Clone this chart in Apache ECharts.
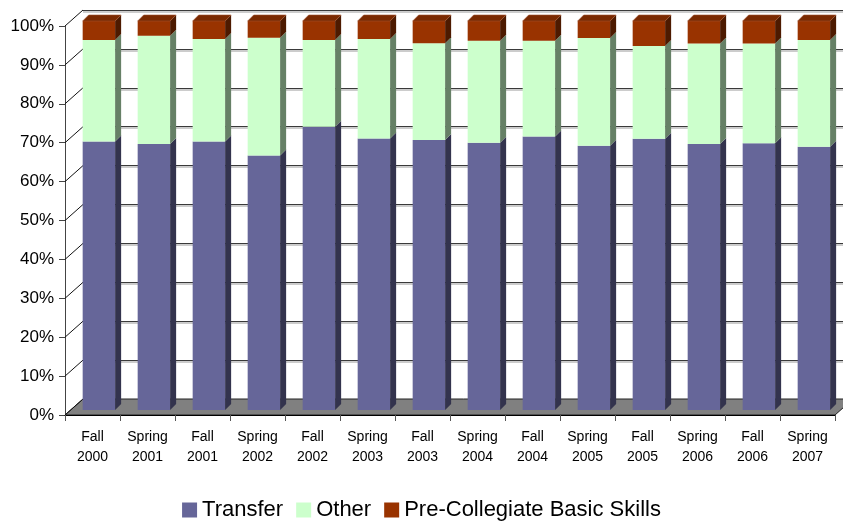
<!DOCTYPE html>
<html>
<head>
<meta charset="utf-8">
<script src="https://cdn.jsdelivr.net/npm/echarts@6/dist/echarts.min.js"></script>
<style>
  html, body { margin: 0; padding: 0; background: #fff; }
  #chart { width: 843px; height: 521px; }
</style>
</head>
<body>
<div id="chart"></div>
<script>
const categories = ['Fall\n2000', 'Spring\n2001', 'Fall\n2001', 'Spring\n2002', 'Fall\n2002', 'Spring\n2003', 'Fall\n2003',
  'Spring\n2004', 'Fall\n2004', 'Spring\n2005', 'Fall\n2005', 'Spring\n2006', 'Fall\n2006', 'Spring\n2007'];
const transfer = [69.0, 68.4, 69.0, 65.4, 72.8, 69.8, 69.4, 68.7, 70.3, 67.9, 69.7, 68.4, 68.6, 67.7];
const other = [26.1, 27.8, 26.4, 30.3, 22.3, 25.6, 24.9, 26.2, 24.6, 27.7, 23.9, 25.8, 25.6, 27.4];
const basicSkills = [4.9, 3.8, 4.6, 4.3, 4.9, 4.6, 5.7, 5.1, 5.1, 4.4, 6.4, 5.8, 5.8, 4.9];
const yTicks = [0, 10, 20, 30, 40, 50, 60, 70, 80, 90, 100];

// pseudo 3d offsets (pixels)
const WALL_DX = 18, WALL_DY = -16;   // front plane -> back wall
const BAR_DX = 6.4, BAR_DY = -5;     // front plane -> bar front face
const DEPTH_X = 6, DEPTH_Y = -6;     // bar depth

// stacked ranges [index, start, end]
function stackData(values, bases) {
  return values.map((v, i) => [i, bases[i], bases[i] + v]);
}
const zeros = transfer.map(() => 0);
const transferData = stackData(transfer, zeros);
const otherData = stackData(other, transferData.map(d => d[2]));
const basicData = stackData(basicSkills, otherData.map(d => d[2]));

function barRenderer(front, side, top, drawTop) {
  return function (params, api) {
    const p0 = api.coord([api.value(0), api.value(1)]);
    const p1 = api.coord([api.value(0), api.value(2)]);
    const bw = api.size([1, 0])[0] * 0.59;
    const xl = p0[0] - bw / 2 + BAR_DX;
    const xr = xl + bw;
    const yb = p0[1] + BAR_DY;
    const yt = p1[1] + BAR_DY;
    const children = [
      { type: 'rect', shape: { x: xl, y: yt, width: bw, height: yb - yt }, style: { fill: front } },
      { type: 'polygon', shape: { points: [[xr, yt], [xr + DEPTH_X, yt + DEPTH_Y], [xr + DEPTH_X, yb + DEPTH_Y], [xr, yb]] }, style: { fill: side } }
    ];
    if (drawTop) {
      children.push({ type: 'polygon', shape: { points: [[xl, yt], [xr, yt], [xr + DEPTH_X, yt + DEPTH_Y], [xl + DEPTH_X, yt + DEPTH_Y]] }, style: { fill: top, stroke: '#a0522d', lineWidth: 0.6 } });
    }
    return { type: 'group', children: children };
  };
}

const myChart = echarts.init(document.getElementById('chart'));
myChart.setOption({
  animation: false,
  textStyle: { fontFamily: 'Liberation Sans, Arial, sans-serif' },
  legend: {
    left: 'center',
    top: 494,
    icon: 'rect',
    itemWidth: 15,
    itemHeight: 15,
    itemGap: 13,
    textStyle: { fontSize: 22, color: '#000' },
    data: ['Transfer', 'Other', 'Pre-Collegiate Basic Skills']
  },
  grid: [
    { left: 65, right: 8, top: 26, bottom: 106 },
    // back wall
    { left: 65 + WALL_DX, right: 8 - WALL_DX, top: 26 + WALL_DY, bottom: 106 - WALL_DY }
  ],
  xAxis: [
    {
      type: 'category',
      gridIndex: 0,
      data: categories,
      z: 4,
      axisLine: { lineStyle: { color: '#000', width: 1 } },
      axisTick: { show: true, length: 6, lineStyle: { color: '#555' } },
      axisLabel: { color: '#000', fontSize: 14, lineHeight: 20, margin: 12, interval: 0 }
    },
    { type: 'value', gridIndex: 1, min: 0, max: 1, show: false }
  ],
  yAxis: [
    {
      type: 'value',
      gridIndex: 0,
      min: 0,
      max: 100,
      interval: 10,
      axisLine: { show: true, lineStyle: { color: '#444' } },
      axisTick: { show: true, length: 6, lineStyle: { color: '#444' } },
      axisLabel: { formatter: '{value}%', color: '#000', fontSize: 17, margin: 11 },
      splitLine: { show: false }
    },
    {
      type: 'value',
      gridIndex: 1,
      min: 0,
      max: 100,
      interval: 10,
      axisLine: { show: false },
      axisTick: { show: false },
      axisLabel: { show: false },
      splitLine: { show: true, lineStyle: { color: '#3a3a3a', width: 1, shadowColor: '#999', shadowOffsetY: 1.5 } }
    }
  ],
  series: [
    {
      // floor
      type: 'custom',
      silent: true,
      z: 1,
      xAxisIndex: 0,
      yAxisIndex: 0,
      data: [[0, 0]],
      renderItem: function (params, api) {
        const cs = params.coordSys;
        const y = api.coord([0, 0])[1];
        return {
          type: 'polygon',
          shape: { points: [[cs.x, y], [cs.x + cs.width, y], [cs.x + cs.width + WALL_DX, y + WALL_DY], [cs.x + WALL_DX, y + WALL_DY]] },
          style: { fill: '#808080', stroke: '#222', lineWidth: 1 }
        };
      }
    },
    {
      // left wall diagonals
      type: 'custom',
      silent: true,
      z: 1,
      xAxisIndex: 0,
      yAxisIndex: 0,
      data: yTicks.map(v => [0, v]),
      renderItem: function (params, api) {
        const x = params.coordSys.x;
        const y = api.coord([0, api.value(1)])[1];
        return {
          type: 'line',
          shape: { x1: x, y1: y, x2: x + WALL_DX, y2: y + WALL_DY },
          style: { stroke: '#111', lineWidth: 1 }
        };
      }
    },
    {
      name: 'Transfer',
      type: 'custom',
      z: 3,
      itemStyle: { color: '#666699' },
      encode: { x: 0, y: 2 },
      data: transferData,
      renderItem: barRenderer('#666699', '#33334d', null, false)
    },
    {
      name: 'Other',
      type: 'custom',
      z: 3,
      itemStyle: { color: '#ccffcc' },
      encode: { x: 0, y: 2 },
      data: otherData,
      renderItem: barRenderer('#ccffcc', '#668066', null, false)
    },
    {
      name: 'Pre-Collegiate Basic Skills',
      type: 'custom',
      z: 3,
      itemStyle: { color: '#993300' },
      encode: { x: 0, y: 2 },
      data: basicData,
      renderItem: barRenderer('#993300', '#4d1a00', '#7a2900', true)
    }
  ]
});
</script>
</body>
</html>
